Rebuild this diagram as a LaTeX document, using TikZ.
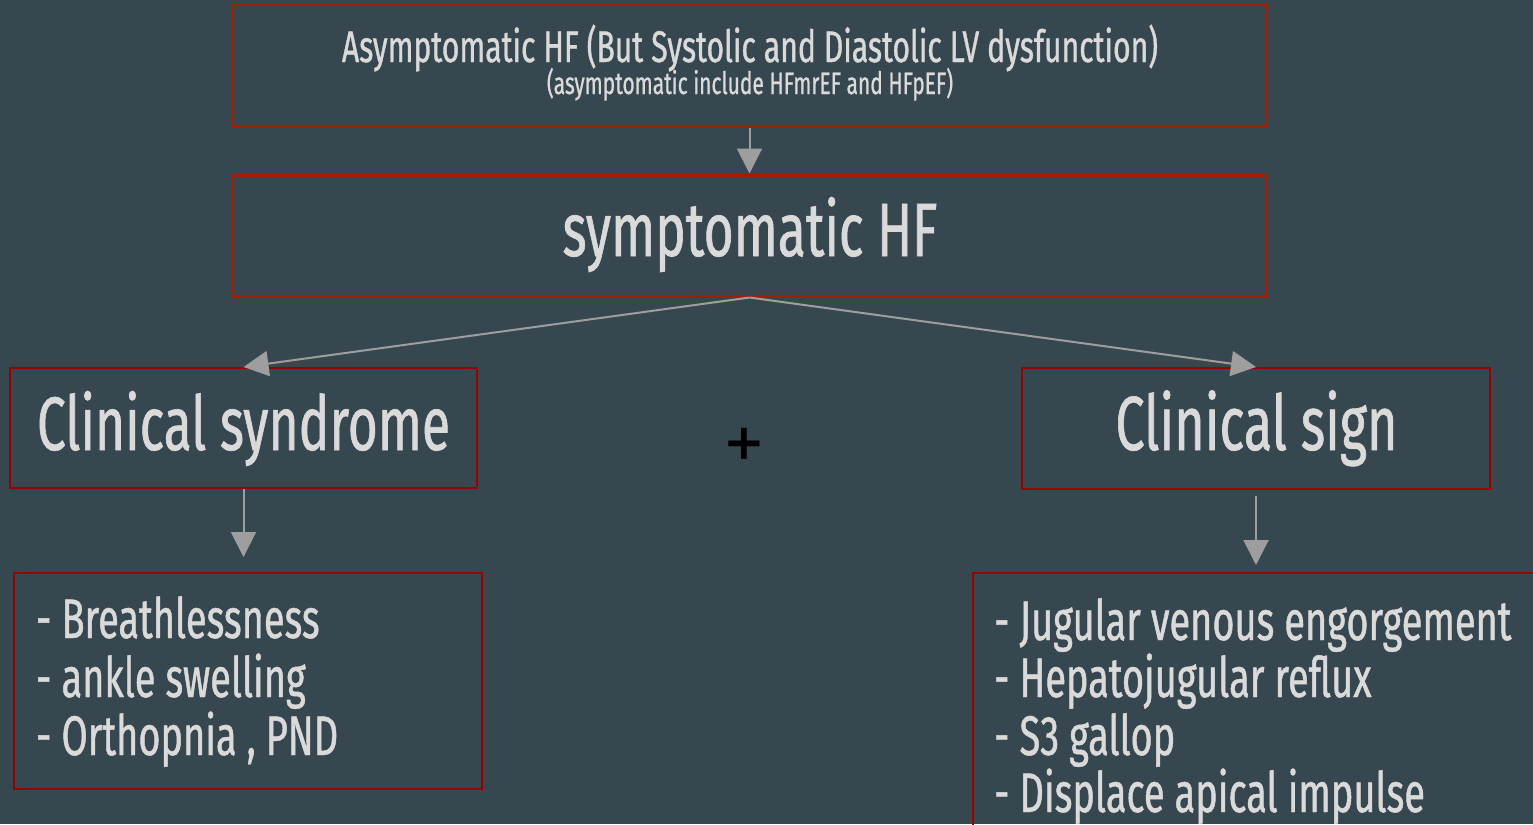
\documentclass[tikz,border=0pt]{standalone}
\usepackage{fontspec}
\setmainfont{Fira Sans}[FakeStretch=0.68, FakeBold=0.8]
\newfontfamily\plusfont{DejaVu Sans}
\usetikzlibrary{arrows.meta}
\definecolor{bg}{HTML}{37474F}
\definecolor{redA}{HTML}{A61C00}
\definecolor{redB}{HTML}{990000}
\definecolor{ink}{HTML}{DADADA}
\definecolor{conn}{HTML}{9E9E9E}
\newcommand{\fs}[1]{\fontsize{#1}{#1}\selectfont}
\tikzset{
  boxA/.style={draw=redA, line width=3bp, rectangle, inner sep=0pt},
  boxB/.style={draw=redB, line width=2bp, rectangle, inner sep=0pt},
  txt/.style={text=ink, inner sep=0pt},
  link/.style={draw=conn, line width=2bp, -{Triangle[width=25bp,length=25bp]}},
}
\begin{document}
\begin{tikzpicture}[x=1bp,y=-1bp]
  \fill[bg] (0,0) rectangle (1533,824);
  \useasboundingbox (0,0) rectangle (1533,824);
  \clip (0,0) rectangle (1533,824);

  % boxes
  \node[boxA, minimum width=1033bp, minimum height=121bp] (asym) at (749.5,65.5) {};
  \node[boxA, minimum width=1033bp, minimum height=121bp] (sym) at (749.5,235.5) {};
  \node[boxB, minimum width=467bp, minimum height=120bp] (syn) at (243.5,428) {};
  \node[boxB, minimum width=468bp, minimum height=121bp] (sign) at (1256,428.5) {};
  \node[boxB, minimum width=468bp, minimum height=216bp] (list1) at (248,681) {};
  \node[boxB, minimum width=600bp, minimum height=300bp] (list2) at (1273,723) {};

  % headings
  \node[txt, anchor=base, font=\fs{44.5}] (asymT) at (750,62) {Asymptomatic HF (But Systolic and Diastolic LV dysfunction)};
  \node[txt, anchor=base, font=\fs{31}] (asymS) at (750,94) {(asymptomatic include HFmrEF and HFpEF)};
  \node[txt, anchor=base, font=\fs{76}] (symT) at (750,256) {symptomatic HF};
  \node[txt, anchor=base, font=\fs{76}] (synT) at (243.5,450) {Clinical syndrome};
  \node[txt, anchor=base, font=\fs{77}] (signT) at (1256.5,450) {Clinical sign};
  \node[text=black, inner sep=0pt, font=\plusfont\bfseries\fs{50}] (plus) at (744,444) {+};

  % symptom list
  \node[txt, anchor=base west, font=\fs{56}] (s1) at (36,638) {- Breathlessness};
  \node[txt, anchor=base west, font=\fs{56}] (s2) at (36,697) {- ankle swelling};
  \node[txt, anchor=base west, font=\fs{56}] (s3) at (36,755) {- Orthopnia , PND};

  % sign list
  \node[txt, anchor=base west, font=\fs{56}] (g1) at (994,640) {- Jugular venous engorgement};
  \node[txt, anchor=base west, font=\fs{56}] (g2) at (994,697) {- Hepatojugular reflux};
  \node[txt, anchor=base west, font=\fs{56}] (g3) at (994,755) {- S3 gallop};
  \node[txt, anchor=base west, font=\fs{56}] (g4) at (994,812) {- Displace apical impulse};

  % connectors
  \draw[link] (asym.south) -- (sym.north);
  \draw[link] (sym.south) -- (syn.north);
  \draw[link] (sym.south) -- (sign.north);
  \draw[link, shorten >=15bp] (syn.south) -- (syn.south |- list1.north);
  \draw[link, shorten <=6bp, shorten >=7bp] (sign.south) -- (sign.south |- list2.north);
\end{tikzpicture}
\end{document}
